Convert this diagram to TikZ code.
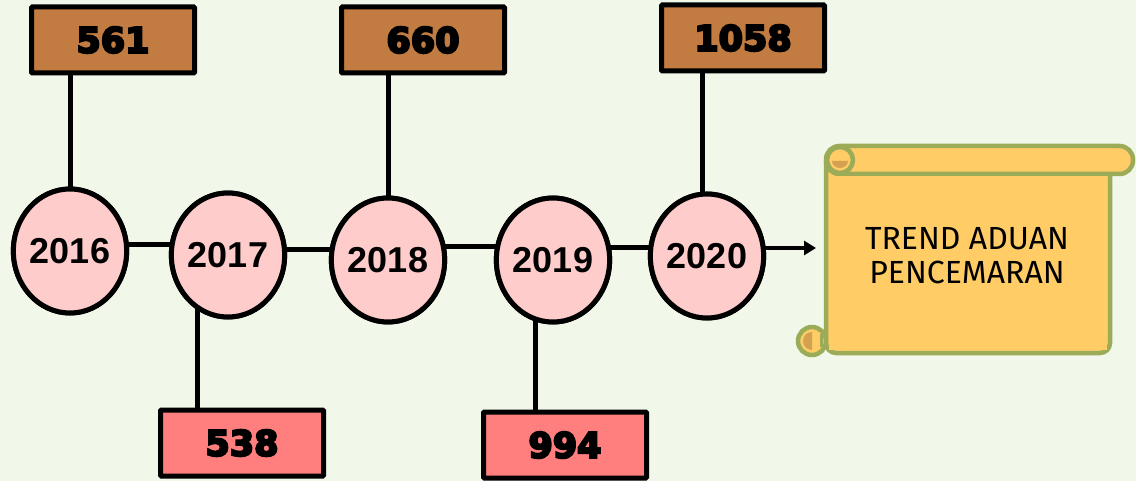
\documentclass[tikz,border=0pt]{standalone}
\usepackage{fontspec}
\setmainfont{Liberation Sans}
\newfontfamily\numfont[FakeBold=6]{DejaVu Sans}
\newfontfamily\scrollfont{Fira Sans}
\usetikzlibrary{shapes.geometric,arrows.meta}
\definecolor{bg}{HTML}{F1F7E9}
\definecolor{brownbox}{HTML}{C27B40}
\definecolor{pinkbox}{HTML}{FF7F7F}
\definecolor{yearfill}{HTML}{FFCCCC}
\definecolor{scrollfill}{HTML}{FFCC66}
\definecolor{scrolledge}{HTML}{9BAB57}
\definecolor{curlfill}{HTML}{D4A052}
\tikzset{
  year/.style={ellipse, draw=black, line width=5pt, fill=yearfill, minimum width=107pt, minimum height=124pt, inner sep=0pt, font=\fontsize{36}{40}\selectfont\bfseries},
  valbox/.style={rectangle, draw=black, line width=5pt, rounded corners=1pt, minimum width=163pt, minimum height=66pt, inner sep=0pt, font=\numfont\fontsize{35}{38}\selectfont\bfseries},
  topbox/.style={valbox, fill=brownbox},
  botbox/.style={valbox, fill=pinkbox},
  conn/.style={draw=black, line width=5pt},
  scrollline/.style={draw=scrolledge, line width=4.5pt, fill=scrollfill},
}
\begin{document}
\begin{tikzpicture}[x=1pt,y=-1pt]
\useasboundingbox (0,0) rectangle (1136,481);
\fill[bg] (0,0) rectangle (1136,481);

% scroll
\draw[scrollline, rounded corners=10pt] (826,160) -- (826,353) -- (1110,353) -- (1110,160);
\draw[scrollline, rounded corners=13.5pt] (826,146) rectangle (1133,174);
\draw[scrollline] (840,160) circle (13);
\fill[curlfill] (832,161) arc[start angle=180,end angle=0,x radius=8,y radius=7] -- cycle;
\draw[scrollline] (812,341) circle (14);
\fill[curlfill] (812,332) arc[start angle=270,end angle=90,radius=9] -- cycle;
\draw[draw=scrolledge, line width=3pt] (821,334) -- (821,347);
\fill[scrollfill] (829,176) rectangle (1107,350);
\node[font=\scrollfont\fontsize{32}{34}\selectfont, align=center] (title) at (967,256) {TREND ADUAN\\PENCEMARAN};
\coordinate (arrowtip) at (816,248);

% horizontal levels of the links
\coordinate (h1) at (0,245);
\coordinate (h2) at (0,250);
\coordinate (h3) at (0,247);
\coordinate (h4) at (0,248);

% year ellipses
\node[year] (e16) at (70,251) {2016};
\node[year] (e17) at (228,255) {2017};
\node[year] (e18) at (388,260) {2018};
\node[year] (e19) at (553,260) {2019};
\node[year] (e20) at (707,256) {2020};

% value boxes
\node[topbox] (b561) at (113,40) {561};
\node[topbox] (b660) at (423,40) {660};
\node[topbox] (b1058) at (743,38) {1058};
\node[botbox] (b538) at (242,443) {538};
\node[botbox] (b994) at (565,445) {994};

% connectors
\draw[conn] (e16.center) -- (e16.center |- b561.south);
\draw[conn] (e18.center) -- (e18.center |- b660.south);
\draw[conn] ([xshift=-5pt]e20.center) -- ([xshift=-5pt]e20.center |- b1058.south);
\draw[conn] ([xshift=-31pt]e17.center) -- ([xshift=-31pt]e17.center |- b538.north);
\draw[conn] ([xshift=-18pt]e19.center) -- ([xshift=-18pt]e19.center |- b994.north);

\draw[conn] (e16.center |- h1) -- (e17.center |- h1);
\draw[conn] (e17.center |- h2) -- (e18.center |- h2);
\draw[conn] (e18.center |- h3) -- (e19.center |- h3);
\draw[conn] (e19.center |- h4) -- (e20.center |- h4);
\draw[conn, line width=4pt, -{Triangle[length=12pt,width=14pt]}] (e20.center |- arrowtip) -- (arrowtip);

% redraw ellipses on top of the links
\node[year] at (e16) {2016};
\node[year] at (e17) {2017};
\node[year] at (e18) {2018};
\node[year] at (e19) {2019};
\node[year] at (e20) {2020};
\end{tikzpicture}
\end{document}
